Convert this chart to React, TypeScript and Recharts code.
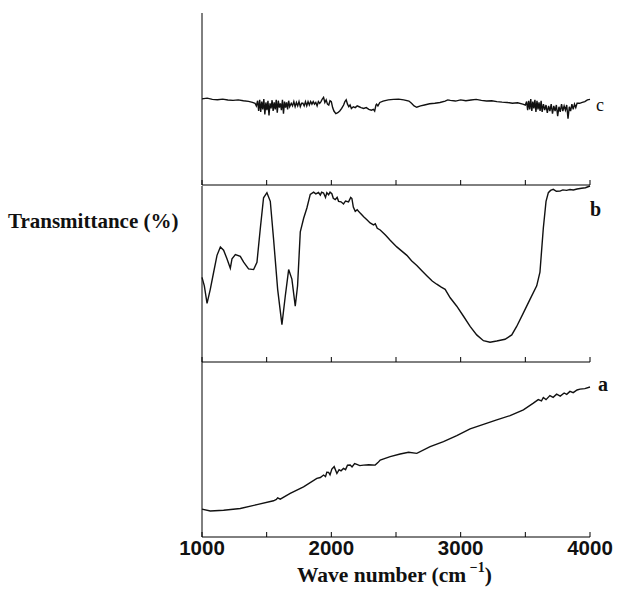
import { Line, LineChart, ReferenceLine, XAxis, YAxis } from 'recharts'

// wave number ticks (cm-1)
const waveTicks = [1000, 1500, 2000, 2500, 3000, 3500, 4000]

// spectrum c (top panel), [wave, transmittance]
const spectrumC: [number, number][] = [
  [1000, 50.1], [1040, 50.5], [1080, 49.8], [1120, 49.6], [1160, 49.9], [1200, 49.4],
  [1240, 49.2], [1280, 49.5], [1320, 49.0], [1360, 48.6], [1390, 48.0], [1410, 47.5],
  [1420, 46.0], [1430, 49.0], [1438, 43.0], [1446, 49.5], [1454, 42.5], [1462, 48.5],
  [1470, 44.0], [1478, 50.0], [1486, 41.0], [1494, 48.0], [1502, 43.5], [1510, 49.0],
  [1518, 40.5], [1526, 47.5], [1534, 44.5], [1542, 49.3], [1550, 43.0], [1558, 48.0],
  [1566, 44.0], [1574, 49.5], [1582, 42.0], [1590, 49.0], [1598, 45.0], [1606, 47.5],
  [1614, 43.5], [1622, 49.5], [1630, 41.5], [1638, 48.5], [1646, 45.0], [1654, 48.0],
  [1662, 44.0], [1670, 49.0], [1678, 45.5], [1690, 47.5], [1700, 46.0], [1710, 48.5],
  [1720, 45.5], [1730, 48.0], [1740, 46.0], [1750, 48.5], [1760, 45.5], [1770, 47.5],
  [1780, 47.5], [1790, 46.0], [1800, 48.5], [1810, 46.0], [1820, 48.5], [1830, 46.5],
  [1840, 48.5], [1850, 47.0], [1860, 48.5], [1870, 47.0], [1880, 48.0], [1890, 46.0],
  [1900, 48.5], [1910, 47.5], [1920, 48.5], [1930, 50.0], [1940, 51.0], [1950, 48.0],
  [1960, 49.5], [1970, 47.0], [1980, 46.5], [1990, 49.0], [2000, 48.5], [2010, 45.0],
  [2020, 43.0], [2035, 41.5], [2050, 42.0], [2065, 43.0], [2080, 44.5], [2095, 46.5],
  [2105, 48.5], [2115, 49.5], [2125, 47.0], [2135, 45.5], [2145, 46.5], [2155, 44.5],
  [2170, 45.5], [2185, 45.0], [2200, 46.0], [2215, 45.5], [2230, 45.0], [2250, 44.5],
  [2270, 45.0], [2290, 44.0], [2310, 43.5], [2325, 44.0], [2335, 43.0], [2345, 46.5],
  [2350, 47.0], [2360, 46.0], [2375, 48.0], [2400, 48.8], [2440, 49.5], [2480, 49.8],
  [2520, 49.9], [2560, 49.5], [2600, 48.8], [2620, 47.5], [2640, 46.0], [2660, 45.2],
  [2690, 46.0], [2720, 46.5], [2760, 47.2], [2800, 47.5], [2840, 48.0], [2880, 48.8],
  [2900, 49.5], [2920, 49.2], [2960, 48.8], [3000, 49.5], [3040, 49.0], [3080, 49.4],
  [3120, 49.8], [3160, 49.2], [3200, 48.8], [3240, 49.0], [3280, 48.5], [3320, 48.2],
  [3360, 48.0], [3400, 47.5], [3440, 47.8], [3480, 47.0], [3500, 46.5], [3510, 48.5],
  [3518, 43.5], [3526, 49.0], [3534, 44.0], [3542, 50.0], [3550, 43.0], [3558, 48.5],
  [3566, 44.5], [3574, 49.5], [3582, 42.5], [3590, 49.0], [3598, 44.0], [3606, 48.0],
  [3614, 43.0], [3622, 49.0], [3630, 42.5], [3640, 47.0], [3650, 43.5], [3660, 46.5],
  [3670, 42.0], [3680, 46.0], [3690, 43.0], [3700, 47.0], [3710, 41.5], [3720, 46.0],
  [3730, 43.0], [3740, 46.5], [3750, 40.0], [3760, 45.5], [3770, 42.5], [3780, 47.0],
  [3790, 43.0], [3800, 46.0], [3810, 43.5], [3820, 46.5], [3830, 38.5], [3840, 45.5],
  [3850, 43.0], [3860, 47.0], [3870, 44.0], [3880, 47.0], [3890, 45.0], [3900, 47.5],
  [3920, 47.5], [3940, 48.0], [3960, 48.5], [3980, 49.5], [4000, 49.8],
]

// spectrum b (middle panel)
const spectrumB: [number, number][] = [
  [1000, 48.1], [1018, 43.3], [1039, 33.3], [1064, 41.3], [1090, 51], [1116, 60.6],
  [1142, 65.4], [1167, 63.5], [1193, 58.7], [1219, 53.3], [1232, 58.7], [1258, 61],
  [1296, 60], [1322, 56.7], [1360, 52.9], [1399, 52.5], [1425, 56.7], [1451, 76],
  [1476, 93.3], [1502, 96.2], [1528, 91.3], [1553, 70.2], [1585, 41.3], [1618, 21.2],
  [1644, 37.5], [1670, 52.5], [1695, 47.1], [1721, 31.7], [1739, 43.3], [1760, 74],
  [1786, 81.7], [1811, 87.5], [1837, 95.2], [1863, 96.5], [1880, 95.5], [1901, 96.3],
  [1915, 94.8], [1925, 96.5], [1940, 96.0], [1955, 93.5], [1965, 96.2], [1979, 95.0],
  [1990, 96.5], [2004, 95.6], [2015, 93.0], [2030, 92.3], [2045, 93.5], [2056, 91.3],
  [2075, 91.0], [2094, 89.8], [2110, 91.5], [2133, 91], [2150, 93.5], [2159, 92.9],
  [2170, 88.0], [2185, 85.6], [2200, 86.5], [2223, 84.6], [2250, 82.5], [2275, 80.8],
  [2300, 79.0], [2326, 77.9], [2340, 78.5], [2355, 76.0], [2378, 75], [2420, 72.0],
  [2455, 69.2], [2506, 65.4], [2545, 63.0], [2584, 60.6], [2620, 57.5], [2661, 54.8],
  [2700, 51.8], [2738, 49], [2780, 46.0], [2815, 44.2], [2850, 42.5], [2880, 41.3],
  [2919, 36.5], [2970, 31.7], [3022, 26], [3073, 20.2], [3124, 15.4], [3176, 12.1],
  [3227, 11.2], [3279, 11.9], [3343, 12.9], [3395, 15.4], [3433, 20.2], [3485, 27.9],
  [3536, 35.6], [3588, 43.3], [3613, 51], [3639, 76], [3660, 91.3], [3678, 96.2],
  [3695, 97.5], [3716, 98.1], [3740, 97.0], [3768, 97.1], [3790, 97.8], [3819, 97.5],
  [3845, 98.0], [3871, 97.7], [3900, 98.3], [3935, 98.7], [3965, 99.0], [4000, 100],
]

// spectrum a (bottom panel)
const spectrumA: [number, number][] = [
  [1000, 15.9], [1064, 14.9], [1167, 15.3], [1296, 16.3], [1425, 18.5], [1553, 20.7],
  [1575, 21.5], [1585, 22.4], [1605, 21.6], [1682, 24.9], [1785, 28.7], [1888, 33.5],
  [1915, 34.0], [1940, 35.4], [1955, 34.5], [1965, 37.0], [1979, 36.9], [1990, 35.5],
  [2004, 38.8], [2022, 40.2], [2043, 36.3], [2060, 38.5], [2075, 37.8], [2094, 39.2],
  [2110, 38.5], [2125, 41.0], [2146, 41.1], [2160, 40.0], [2180, 42.0], [2197, 41.5],
  [2220, 40.8], [2249, 41.1], [2290, 41.3], [2339, 41.1], [2360, 42.5], [2378, 44],
  [2455, 45.9], [2532, 47.4], [2597, 48.4], [2661, 47.8], [2764, 51.6], [2867, 54.5],
  [2970, 57.9], [3073, 61.8], [3176, 64.4], [3279, 66.9], [3382, 69.4], [3485, 72.7],
  [3562, 76.5], [3600, 78.5], [3625, 77.8], [3639, 79.7], [3660, 78.5], [3690, 80.8],
  [3715, 79.8], [3742, 81.6], [3770, 80.5], [3800, 82.3], [3820, 81.5], [3845, 83.2],
  [3870, 82.5], [3900, 84.0], [3923, 84.5], [3960, 84.8], [4000, 85.7],
]

const toRows = (pts: [number, number][]) => pts.map(([w, t]) => ({ w, t }))

const serif = '"Liberation Serif", "Times New Roman", serif'
const sans = '"Liberation Sans", Arial, sans-serif'

function InnerTick({
  x,
  y,
  payload,
  showLabel,
}: {
  x?: number
  y?: number
  payload?: { value: number }
  showLabel?: boolean
}) {
  const v = payload?.value ?? 0
  return (
    <g>
      <line x1={x} y1={y} x2={x} y2={(y ?? 0) - 5} stroke="#000" strokeWidth={1} />
      {showLabel && v % 1000 === 0 && (
        <text
          x={x}
          y={(y ?? 0) + 18}
          textAnchor="middle"
          fontFamily={sans}
          fontWeight="bold"
          fontSize={20.5}
          fill="#111"
        >
          {v}
        </text>
      )}
    </g>
  )
}

function Panel({
  data,
  top,
  height,
  marginTop,
  axisHeight,
  showLabels,
}: {
  data: [number, number][]
  top: number
  height: number
  marginTop: number
  axisHeight: number
  showLabels: boolean
}) {
  return (
    <div style={{ position: 'absolute', left: 0, top }}>
      <LineChart
        width={621}
        height={height}
        data={toRows(data)}
        margin={{ top: marginTop, right: 31, left: 202, bottom: 0 }}
      >
        <XAxis
          dataKey="w"
          type="number"
          domain={[1000, 4000]}
          ticks={waveTicks}
          height={axisHeight}
          tickSize={0}
          tickMargin={0}
          tickLine={false}
          axisLine={{ stroke: '#000', strokeWidth: 1 }}
          tick={<InnerTick showLabel={showLabels} />}
          interval={0}
        />
        <YAxis type="number" domain={[0, 100]} hide />
        <ReferenceLine x={1000} stroke="#000" strokeWidth={1} />
        <Line
          dataKey="t"
          type="linear"
          stroke="#111"
          strokeWidth={1.4}
          dot={false}
          isAnimationActive={false}
        />
      </LineChart>
    </div>
  )
}

export default function App() {
  return (
    <div
      style={{
        position: 'absolute',
        left: 0,
        top: 0,
        width: 621,
        height: 590,
        background: '#fff',
        overflow: 'hidden',
      }}
    >
      <Panel data={spectrumC} top={0} height={200} marginTop={13} axisHeight={15} showLabels={false} />
      <Panel data={spectrumB} top={171} height={206} marginTop={15} axisHeight={15} showLabels={false} />
      <Panel data={spectrumA} top={347} height={243} marginTop={15} axisHeight={53} showLabels={true} />

      <div style={{ position: 'absolute', left: 596, top: 95, fontFamily: serif, fontSize: 18, color: '#111' }}>
        c
      </div>
      <div style={{ position: 'absolute', left: 590, top: 198, fontFamily: serif, fontSize: 20, fontWeight: 'bold', color: '#111' }}>
        b
      </div>
      <div style={{ position: 'absolute', left: 598, top: 373, fontFamily: serif, fontSize: 20, fontWeight: 'bold', color: '#111' }}>
        a
      </div>
      <div
        style={{
          position: 'absolute',
          left: 8,
          top: 209,
          fontFamily: serif,
          fontSize: 21,
          fontWeight: 'bold',
          color: '#111',
          whiteSpace: 'nowrap',
        }}
      >
        Transmittance (%)
      </div>
      <div
        style={{
          position: 'absolute',
          left: 297,
          top: 563,
          fontFamily: serif,
          fontSize: 21.5,
          fontWeight: 'bold',
          color: '#111',
          whiteSpace: 'nowrap',
        }}
      >
        Wave number (cm<sup style={{ fontSize: 14, verticalAlign: 'top', position: 'relative', top: -3 }}>{' \u22121'}</sup>)
      </div>
    </div>
  )
}
